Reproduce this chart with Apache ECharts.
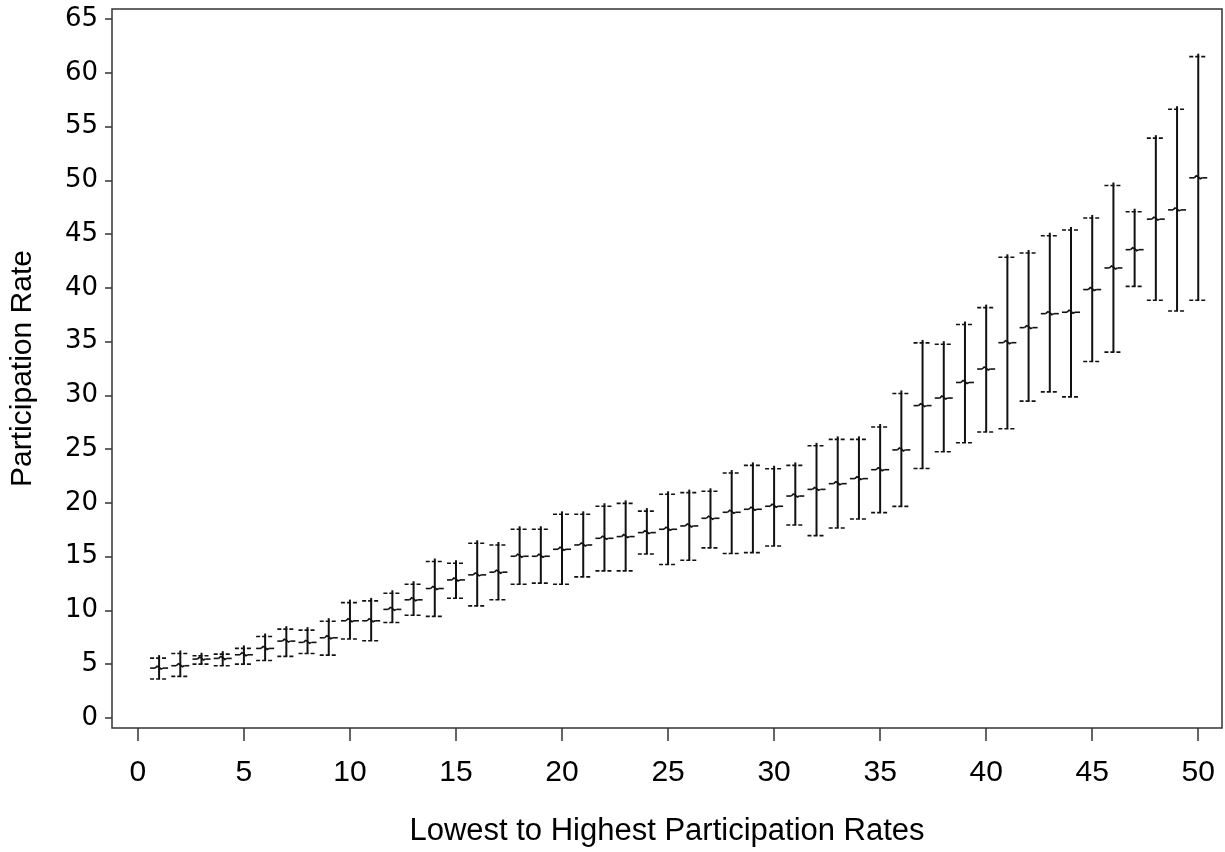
<!DOCTYPE html>
<html>
<head>
<meta charset="utf-8">
<script src="https://cdn.jsdelivr.net/npm/echarts@6/dist/echarts.min.js"></script>
<style>
html,body{margin:0;padding:0;background:#fff;}
#chart{width:1225px;height:852px;}
</style>
</head>
<body>
<div id="chart"></div>
<script>
// Rank (lowest to highest participation rate)
const ranks = [1,2,3,4,5,6,7,8,9,10,11,12,13,14,15,16,17,18,19,20,21,22,23,24,25,26,27,28,29,30,31,32,33,34,35,36,37,38,39,40,41,42,43,44,45,46,47,48,49,50];
// Lower bound of interval
const lowerVals = [3.62,3.87,5.01,4.86,5.01,5.35,5.73,6.0,5.85,7.34,7.18,8.88,9.55,9.45,11.14,10.43,10.99,12.44,12.54,12.44,13.12,13.68,13.68,15.25,14.27,14.67,15.82,15.29,15.38,16.0,17.95,16.96,17.67,18.51,19.1,19.68,23.2,24.76,25.6,26.6,26.9,29.47,30.33,29.86,33.15,34.02,40.14,38.84,37.85,38.84];
// Point estimate
const meanVals = [4.64,4.86,5.48,5.54,5.88,6.47,7.15,7.03,7.46,9.04,9.04,10.1,10.99,12.04,12.84,13.31,13.56,15.04,15.04,15.69,16.09,16.71,16.87,17.24,17.55,17.86,18.57,19.13,19.41,19.69,20.64,21.26,21.79,22.26,23.09,24.93,29.05,29.75,31.2,32.45,34.9,36.3,37.6,37.73,39.84,41.85,43.55,46.39,47.25,50.23];
// Upper bound of interval
const upperVals = [5.57,6.0,5.79,5.94,6.47,7.58,8.26,8.17,9.0,10.73,10.89,11.6,12.44,14.55,14.39,16.25,16.09,17.55,17.55,18.94,18.94,19.69,19.96,19.24,20.8,20.96,21.08,22.78,23.49,23.18,23.49,25.31,25.91,25.91,27.06,30.18,34.88,34.76,36.59,38.16,42.84,43.24,44.85,45.38,46.5,49.52,47.08,53.92,56.61,61.5];
// Tick labels
const xTicks = [0,5,10,15,20,25,30,35,40,45,50];
const yTicks = [0,5,10,15,20,25,30,35,40,45,50,55,60,65];

const data = ranks.map((r, i) => [r, lowerVals[i], meanVals[i], upperVals[i]]);

function renderItem(params, api) {
  const x = api.value(0);
  const lo = api.coord([x, api.value(1)]);
  const md = api.coord([x, api.value(2)]);
  const hi = api.coord([x, api.value(3)]);
  const hw = 9;
  const cx = hi[0];
  const ink = '#111';
  const capStyle = {stroke: ink, lineWidth: 1.6, lineDash: [4, 2]};
  return {
    type: 'group',
    children: [
      {type: 'line', shape: {x1: cx, y1: hi[1] - 3, x2: cx, y2: lo[1]}, style: {stroke: ink, lineWidth: 2}},
      {type: 'line', shape: {x1: cx - hw, y1: hi[1], x2: cx + hw, y2: hi[1]}, style: capStyle},
      {type: 'line', shape: {x1: cx - hw, y1: lo[1], x2: cx + hw, y2: lo[1]}, style: capStyle},
      {type: 'line', shape: {x1: cx - hw, y1: md[1], x2: cx - 4, y2: md[1]}, style: {stroke: ink, lineWidth: 1.6}},
      {type: 'line', shape: {x1: cx + 4, y1: md[1], x2: cx + hw, y2: md[1]}, style: {stroke: ink, lineWidth: 1.6}},
      {type: 'polyline', shape: {points: [[cx - 4, md[1]], [cx - 2, md[1] - 2], [cx, md[1] - 1], [cx + 2, md[1] + 1], [cx + 4, md[1]]]}, style: {stroke: ink, lineWidth: 1.6, fill: null}}
    ]
  };
}

const chart = echarts.init(document.getElementById('chart'), null, {renderer: 'canvas'});
chart.setOption({
  animation: false,
  backgroundColor: '#ffffff',
  grid: {left: 112, right: 3, top: 9, bottom: 123, show: true, borderColor: '#333', borderWidth: 1.5, backgroundColor: 'transparent'},
  xAxis: {
    type: 'value',
    min: -1.22,
    max: 51.12,
    name: 'Lowest to Highest Participation Rates',
    nameLocation: 'middle',
    nameGap: 88,
    nameTextStyle: {fontFamily: 'Liberation Sans', fontSize: 31, color: '#000'},
    axisLine: {show: false, onZero: false},
    splitLine: {show: false},
    axisTick: {show: true, length: 13, customValues: xTicks, lineStyle: {color: '#333', width: 1.5}},
    axisLabel: {customValues: xTicks, margin: 30, fontFamily: 'Liberation Sans', fontSize: 30, color: '#000'}
  },
  yAxis: {
    type: 'value',
    min: -0.93,
    max: 65.93,
    name: 'Participation Rate',
    nameLocation: 'middle',
    nameGap: 74,
    nameMoveOverlap: false,
    nameTextStyle: {fontFamily: 'Liberation Sans', fontSize: 30, color: '#000'},
    axisLine: {show: false, onZero: false},
    splitLine: {show: false},
    axisTick: {show: true, length: 7, customValues: yTicks, lineStyle: {color: '#333', width: 1.5}},
    axisLabel: {customValues: yTicks, margin: 14, fontFamily: 'DejaVu Sans', fontSize: 26, color: '#000'}
  },
  series: [{
    type: 'custom',
    renderItem: renderItem,
    data: data,
    encode: {x: 0, y: [1, 2, 3]},
    clip: false
  }]
});
</script>
</body>
</html>
